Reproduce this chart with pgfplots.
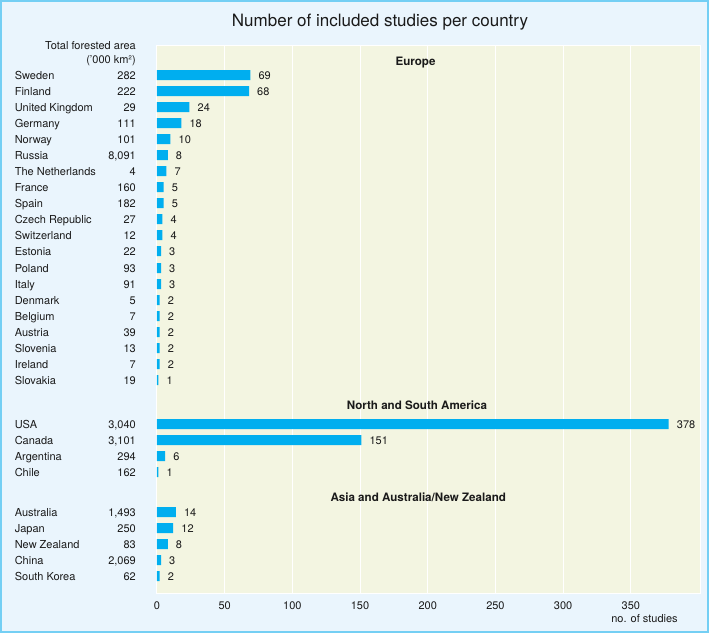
\documentclass[border=0pt]{standalone}
\usepackage{fontspec}
\setmainfont{TeX Gyre Heros}
\usepackage{pgfplots}
\pgfplotsset{compat=1.18}
\definecolor{bgblue}{HTML}{EAF5FD}
\definecolor{frameblue}{HTML}{74CFF4}
\definecolor{plotbg}{HTML}{F3F5E1}
\definecolor{barblue}{HTML}{00AEEF}
\definecolor{txt}{HTML}{1A1A1A}
\newcommand\lab[2]{\makebox[121pt]{#1\hfill #2}}
\begin{document}
\begin{tikzpicture}[x=1pt,y=1pt,text=txt,font=\fontsize{11}{13}\selectfont]
\useasboundingbox (0,0) rectangle (709,-633);
\fill[bgblue] (0,0) rectangle (709,-633);
\draw[frameblue, line width=2pt] (1,-1) rectangle (708,-632);
\node[anchor=base, font=\fontsize{17}{20}\selectfont] at (380,-26) {Number of included studies per country};
\node[anchor=base east, inner sep=0pt] at (136,-49) {Total forested area};
\node[anchor=base east, inner sep=0pt] at (136,-63) {('000 km²)};
\begin{axis}[
  at={(156pt,-45pt)}, anchor=north west,
  scale only axis, width=544pt, height=548pt,
  xmin=-0.7, xmax=401.1, ymin=45, ymax=593, y dir=reverse,
  axis background/.style={fill=plotbg},
  axis line style={white, line width=1pt},
  major tick length=0pt,
  xtick={0,50,100,150,200,250,300,350},
  extra x ticks={50,100,150,200,250,300,350},
  extra x tick labels={},
  extra x tick style={grid=major},
  grid style={white, line width=1pt},
  /pgf/number format/assume math mode=true,
  tick label style={font=\fontsize{11}{13}\selectfont, text=txt},
  xticklabel style={anchor=north, inner sep=0pt, yshift=-8pt},
  ytick={75,91,107,123,139,155,171,187,203,219,235,251,268,284,300,316,332,348,364,380,424,440,456,472,512,528,544,560,576},
  yticklabels={
    {\lab{Sweden}{282}},{\lab{Finland}{222}},{\lab{United Kingdom}{29}},{\lab{Germany}{111}},
    {\lab{Norway}{101}},{\lab{Russia}{8,091}},{\lab{The Netherlands}{4}},{\lab{France}{160}},
    {\lab{Spain}{182}},{\lab{Czech Republic}{27}},{\lab{Switzerland}{12}},{\lab{Estonia}{22}},
    {\lab{Poland}{93}},{\lab{Italy}{91}},{\lab{Denmark}{5}},{\lab{Belgium}{7}},
    {\lab{Austria}{39}},{\lab{Slovenia}{13}},{\lab{Ireland}{7}},{\lab{Slovakia}{19}},
    {\lab{USA}{3,040}},{\lab{Canada}{3,101}},{\lab{Argentina}{294}},{\lab{Chile}{162}},
    {\lab{Australia}{1,493}},{\lab{Japan}{250}},{\lab{New Zealand}{83}},{\lab{China}{2,069}},
    {\lab{South Korea}{62}}},
  yticklabel style={anchor=base east, inner sep=0pt, xshift=-20pt, yshift=-4pt},
  xbar, bar width=10pt,
  point meta=x,
  nodes near coords,
  nodes near coords style={anchor=base west, inner sep=0pt, xshift=8pt, yshift=-4pt, font=\fontsize{11}{13}\selectfont, text=txt},
  clip=false,
]
\addplot[fill=barblue, draw=none] coordinates {
  (69,75) (68,91) (24,107) (18,123) (10,139) (8,155) (7,171) (5,187) (5,203) (4,219)
  (4,235) (3,251) (3,268) (3,284) (2,300) (2,316) (2,332) (2,348) (2,364) (1,380)
  (378,424) (151,440) (6,456) (1,472)
  (14,512) (12,528) (8,544) (3,560) (2,576)};
\node[anchor=base, font=\bfseries\fontsize{11.6}{14}\selectfont] at (axis cs:191,65) {Europe};
\node[anchor=base, font=\bfseries\fontsize{11.6}{14}\selectfont] at (axis cs:192,409) {North and South America};
\node[anchor=base, font=\bfseries\fontsize{11.6}{14}\selectfont] at (axis cs:193,501) {Asia and Australia/New Zealand};
\node[anchor=base east, inner sep=0pt] at (axis cs:384.8,622) {no. of studies};
\end{axis}
\end{tikzpicture}
\end{document}
